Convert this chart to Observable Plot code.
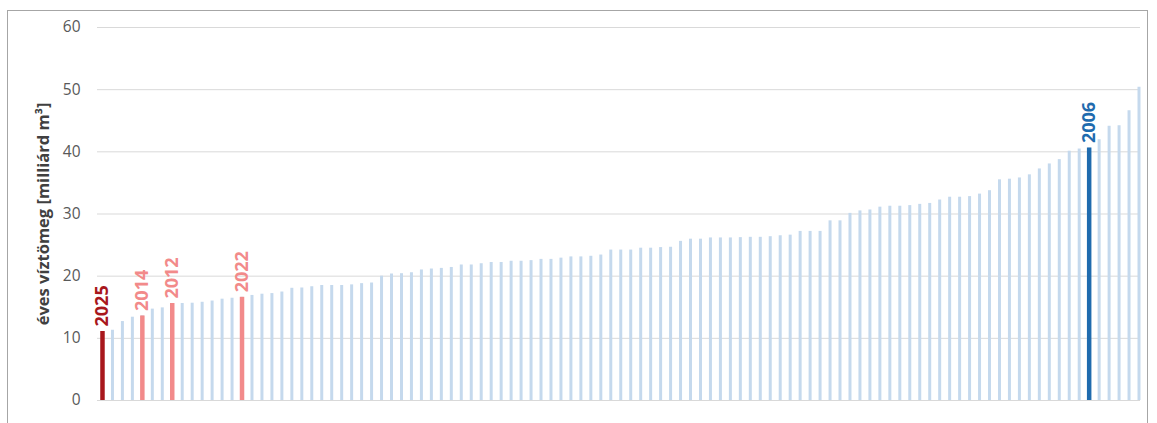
<!DOCTYPE html>
<html><head><meta charset="utf-8">
<script src="https://cdn.jsdelivr.net/npm/d3@7"></script>
<script src="https://cdn.jsdelivr.net/npm/@observablehq/plot@0.6"></script>
<style>
html,body{margin:0;padding:0;background:#fff;overflow:hidden}
#frame{position:absolute;left:7px;top:10px;width:1139px;height:430px;border:1px solid #a6a6a6;border-bottom:none;}
#chart{position:absolute;left:0;top:0}
</style></head><body>
<div id="frame"></div><div id="chart"></div>
<script>
// annual water volume, sorted ascending (billion m³)
const values = [
 11.1, 11.3, 12.7, 13.4, 13.6, 14.7, 14.9, 15.6, 15.6, 15.65,
 15.8, 16.0, 16.3, 16.45, 16.6, 16.9, 17.1, 17.2, 17.45, 18.05,
 18.1, 18.3, 18.5, 18.5, 18.5, 18.6, 18.8, 18.9, 20.0, 20.35,
 20.4, 20.55, 21.0, 21.15, 21.25, 21.4, 21.8, 21.8, 22.0, 22.2,
 22.2, 22.4, 22.4, 22.5, 22.7, 22.7, 22.9, 23.1, 23.1, 23.2,
 23.4, 24.2, 24.2, 24.2, 24.5, 24.5, 24.6, 24.65, 25.6, 25.95,
 25.95, 26.15, 26.15, 26.15, 26.2, 26.25, 26.25, 26.35, 26.5, 26.6,
 27.2, 27.2, 27.2, 28.9, 28.9, 30.1, 30.5, 30.65, 31.1, 31.25,
 31.25, 31.35, 31.55, 31.7, 32.25, 32.7, 32.7, 32.8, 33.2, 33.75,
 35.5, 35.6, 35.8, 36.3, 37.25, 38.05, 38.75, 40.1, 40.45, 40.6,
 41.95, 44.1, 44.2, 46.6, 50.4
];
const yTicks = [0, 10, 20, 30, 40, 50, 60];
const highlightYears = ["2025", "2014", "2012", "2022", "2006"];
const highlightRanks = [0, 4, 7, 14, 99];
const highlightColors = ["#a8171c", "#f28a8a", "#f28a8a", "#f28a8a", "#1f6bae"];
const yLabel = "éves víztömeg [milliárd m³]";

const bars = values.map((v, i) => ({rank: i, value: v}));
const hl = highlightYears.map((y, k) => ({
  year: y, rank: highlightRanks[k], value: values[highlightRanks[k]], color: highlightColors[k]
}));

const chart = Plot.plot({
  width: 1157, height: 423,
  marginLeft: 97, marginRight: 17, marginTop: 27, marginBottom: 23,
  style: {fontFamily: "'Open Sans', sans-serif", background: "transparent"},
  x: {domain: [-0.5, 104.15], axis: null},
  y: {domain: [0, 60]},
  color: {type: "identity"},
  marks: [
    Plot.ruleY(yTicks, {stroke: "#d9d9d9", strokeWidth: 1}),
    Plot.ruleX(bars, {x: "rank", y1: 0, y2: "value", stroke: "#c5d9ed", strokeWidth: 3}),
    Plot.ruleX(hl, {x: "rank", y1: 0, y2: "value", stroke: d => d.color, strokeWidth: 4.5}),
    Plot.text(hl, {x: "rank", y: "value", text: "year", fill: d => d.color, rotate: -90,
      textAnchor: "start", lineAnchor: "middle", dy: -5, fontSize: 18, fontWeight: "bold"}),
    Plot.axisY({ticks: yTicks, tickSize: 0, tickPadding: 17, label: null, fontSize: 15.5, color: "#595959"}),
    Plot.text([yLabel], {frameAnchor: "left", text: d => d, rotate: -90, dx: -54,
      textAnchor: "middle", lineAnchor: "middle",
      fontSize: 16.5, fontWeight: "bold", fill: "#404040"})
  ]
});
document.getElementById("chart").appendChild(chart);
</script>
</body></html>
